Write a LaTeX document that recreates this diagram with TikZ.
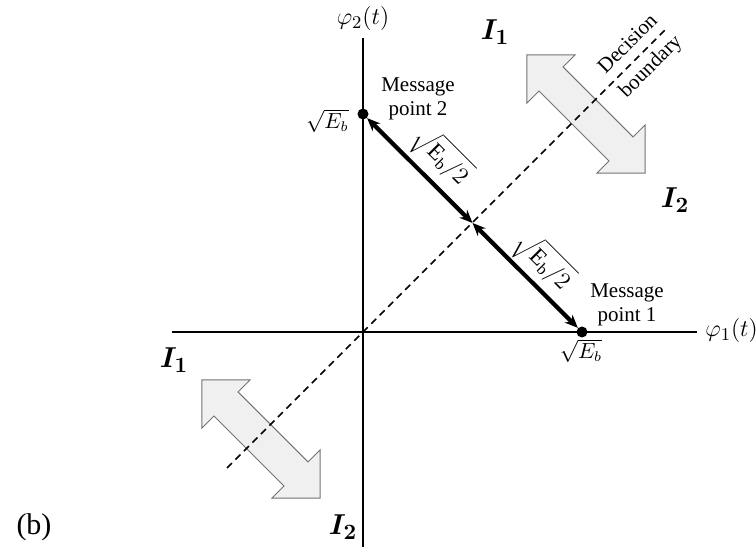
\documentclass[tikz,border=0pt]{standalone}
\usepackage{bm}
\usepackage{fontspec}
\setmainfont{Liberation Serif}
\usetikzlibrary{arrows.meta}
\begin{document}
\begin{tikzpicture}[x=0.5pt,y=-0.5pt,
  axis/.style={line width=0.7pt},
  bound/.style={line width=0.75pt,dash pattern=on 3.5pt off 2.5pt},
  vec/.style={line width=2.1pt,{Stealth[length=6.5pt,width=5.5pt]}-{Stealth[length=6.5pt,width=5.5pt]}},
  dot/.style={circle,fill=black,inner sep=0pt,minimum size=5.5pt},
  txt/.style={font=\fontsize{10.5}{12}\selectfont,align=center,inner sep=0pt},
  mth/.style={font=\fontsize{10.5}{12}\selectfont,inner sep=0pt},
  axl/.style={font=\fontsize{12.5}{14}\selectfont,inner sep=0pt},
  reg/.style={font=\fontsize{15}{17}\selectfont,inner sep=0pt},
  dblarrow/.style={draw=black!55,fill=black!6,line width=0.5pt,line join=miter}]
\useasboundingbox (0,0) rectangle (756,550);
% axes
\coordinate (O) at (363,332);
\coordinate (xl) at (172,332);
\coordinate (xr) at (697,332);
\coordinate (yt) at (363,38);
\coordinate (yb) at (363,547);
\draw[axis] (xl) -- (xr);
\draw[axis] (yt) -- (yb);
% double arrows
\begin{scope}[shift={(586,114)},rotate=-45]
\draw[dblarrow] (-83.5,0) -- (-49.5,34) -- (-49.5,17) -- (49.5,17) -- (49.5,34) -- (83.5,0)
  -- (49.5,-34) -- (49.5,-17) -- (-49.5,-17) -- (-49.5,-34) -- cycle;
\end{scope}
\begin{scope}[shift={(261,439)},rotate=-45]
\draw[dblarrow] (-83.5,0) -- (-49.5,34) -- (-49.5,17) -- (49.5,17) -- (49.5,34) -- (83.5,0)
  -- (49.5,-34) -- (49.5,-17) -- (-49.5,-17) -- (-49.5,-34) -- cycle;
\end{scope}
% decision boundary
\coordinate (bl) at (227,468);
\coordinate (bu) at (665,30);
\draw[bound] (bl) -- (bu);
% message points
\node[dot] (mp2) at (363,114) {};
\node[dot] (mp1) at (582,332) {};
\coordinate (mid) at (472.5,223);
\draw[vec] (mp2) -- (mid);
\draw[vec] (mid) -- (mp1);
% labels
\node[axl] (phi2) at (363,19) {$\varphi_2(t)$};
\node[axl,anchor=west] (phi1) at (705,331) {$\varphi_1(t)$};
\node[mth,anchor=east] (eb2) at (349,121) {$\sqrt{E_b}$};
\node[mth] (eb1) at (581,351) {$\sqrt{E_b}$};
\node[txt] (m2) at (418,99) {Message\\point 2};
\node[txt] (m1) at (627,305) {Message\\point 1};
\node[font=\fontsize{11.5}{13}\selectfont,inner sep=0pt,rotate=-45] (h2) at (441,157) {$\sqrt{\mathrm{E_b}/2}$};
\node[font=\fontsize{11.5}{13}\selectfont,inner sep=0pt,rotate=-45] (h1) at (543,262) {$\sqrt{\mathrm{E_b}/2}$};
\node[font=\fontsize{10.5}{16}\selectfont,align=center,inner sep=0pt,rotate=45] (db) at (640,56) {Decision\\boundary};
\node[reg] (i1a) at (495,32) {$\bm{I_1}$};
\node[reg] (i2a) at (675,200) {$\bm{I_2}$};
\node[reg] (i1b) at (174,360) {$\bm{I_1}$};
\node[reg] (i2b) at (343,527) {$\bm{I_2}$};
\node[font=\fontsize{15}{17}\selectfont,inner sep=0pt] (lb) at (34,527) {(b)};
\end{tikzpicture}
\end{document}
